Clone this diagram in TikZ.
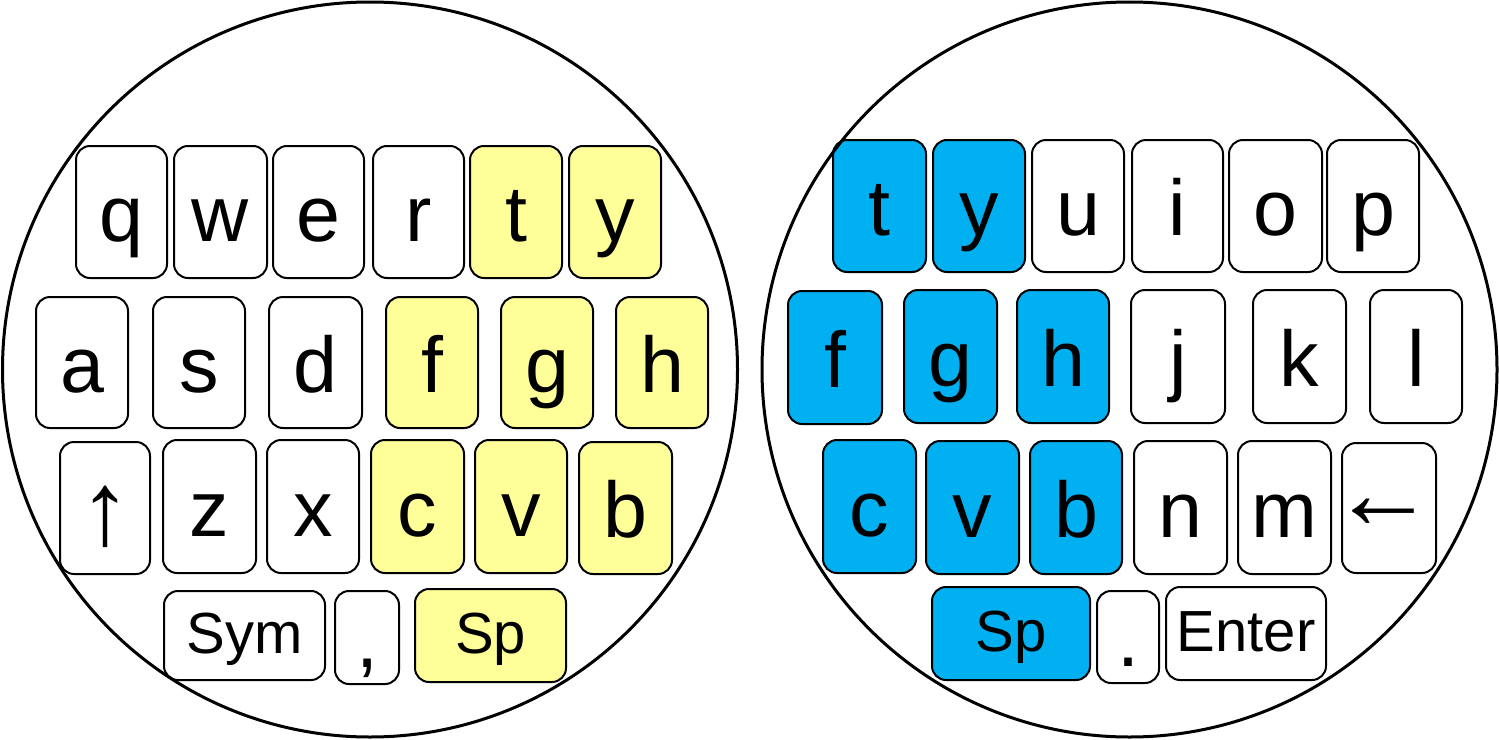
\documentclass[tikz,border=0pt]{standalone}
\usepackage{fontspec}
\setmainfont{Liberation Sans}
\definecolor{keyyellow}{RGB}{255,255,153}
\definecolor{keyblue}{RGB}{0,176,240}
\newcommand\bigkeyfont{\fontsize{39.5}{46}\selectfont}
\newcommand\wordkeyfont{\fontsize{29}{35}\selectfont}
\newcommand\arrowkeyfont{\fontsize{52}{60}\selectfont}
\newcommand\keyat[7]{\node[keybox,#6,minimum width={(#4-#2)*0.5pt},minimum height={(#5-#3)*0.5pt}] (#1) at ({(#2+#4)/2},{(#3+#5)/2}) {#7};}
\tikzset{
  keybox/.style={draw=black, line width=1pt, rounded corners=7pt, inner sep=0pt, outer sep=0pt,
    font=\bigkeyfont, text height=29.5pt, text depth=0pt},
  wk/.style={fill=white},
  yk/.style={fill=keyyellow},
  bk/.style={fill=keyblue},
  wordk/.style={font=\wordkeyfont, text height=18pt},
  uparrowk/.style={font=\arrowkeyfont, text height=36pt},
  leftarrowk/.style={font=\arrowkeyfont, text height=20pt},
  ring/.style={draw=black, line width=1.5pt}
}
\begin{document}
\begin{tikzpicture}[x=0.5pt,y=-0.5pt]
\useasboundingbox (0,0) rectangle (1499,739);
% left keyboard
\keyat{lq}{76}{146}{167}{278}{wk}{q}
\keyat{lw}{174}{146}{267}{278}{wk}{w}
\keyat{le}{273}{146}{364}{278}{wk}{e}
\keyat{lr}{373}{146}{464}{278}{wk}{r}
\keyat{lt}{470}{146}{562}{278}{yk}{t}
\keyat{ly}{569}{146}{661}{278}{yk}{y}
\keyat{la}{36}{297}{128}{428}{wk}{a}
\keyat{ls}{153}{297}{245}{428}{wk}{s}
\keyat{ld}{269}{297}{362}{428}{wk}{d}
\keyat{lf}{386}{297}{478}{428}{yk}{f}
\keyat{lg}{501}{297}{593}{428}{yk}{g}
\keyat{lh}{616}{297}{708}{428}{yk}{h}
\keyat{lup}{60}{442}{150}{574}{wk,uparrowk}{\makebox[0pt]{↑}}
\keyat{lz}{163}{440}{256}{573}{wk}{z}
\keyat{lx}{267}{440}{359}{573}{wk}{x}
\keyat{lc}{371}{440}{464}{573}{yk}{c}
\keyat{lv}{475}{440}{567}{573}{yk}{v}
\keyat{lb}{579}{442}{672}{574}{yk}{b}
\keyat{lsym}{164}{591}{325}{680}{wk,wordk}{Sym}
\keyat{lcomma}{335}{591}{399}{684}{wk}{,}
\keyat{lsp}{415}{589}{566}{682}{yk,wordk}{Sp}
% right keyboard
\keyat{rt}{833}{140}{926}{272}{bk}{t}
\keyat{ry}{933}{140}{1025}{272}{bk}{y}
\keyat{ru}{1032}{140}{1124}{272}{wk}{u}
\keyat{ri}{1132}{140}{1223}{272}{wk}{i}
\keyat{ro}{1229}{140}{1322}{272}{wk}{o}
\keyat{rp}{1327}{140}{1419}{272}{wk}{p}
\keyat{rf}{788}{291}{882}{424}{bk}{f}
\keyat{rg}{904}{290}{997}{423}{bk}{g}
\keyat{rh}{1017}{290}{1109}{423}{bk}{h}
\keyat{rj}{1131}{290}{1225}{423}{wk}{j}
\keyat{rk}{1253}{290}{1346}{423}{wk}{k}
\keyat{rl}{1370}{290}{1462}{423}{wk}{l}
\keyat{rc}{823}{440}{916}{573}{bk}{c}
\keyat{rv}{926}{441}{1019}{574}{bk}{v}
\keyat{rb}{1030}{441}{1122}{574}{bk}{b}
\keyat{rn}{1134}{441}{1227}{574}{wk}{n}
\keyat{rm}{1238}{441}{1331}{574}{wk}{m}
\keyat{rleft}{1342}{443}{1436}{573}{wk,leftarrowk}{\makebox[0pt]{←\hspace{6pt}}}
\keyat{rsp}{932}{587}{1090}{680}{bk,wordk}{Sp}
\keyat{rdot}{1097}{591}{1159}{683}{wk}{.}
\keyat{renter}{1166}{587}{1326}{680}{wk,wordk}{Enter}
% outer circles
\draw[ring] (370,369.5) circle[radius=183.75pt];
\draw[ring] (1129.5,369.5) circle[radius=183.75pt];
\end{tikzpicture}
\end{document}
